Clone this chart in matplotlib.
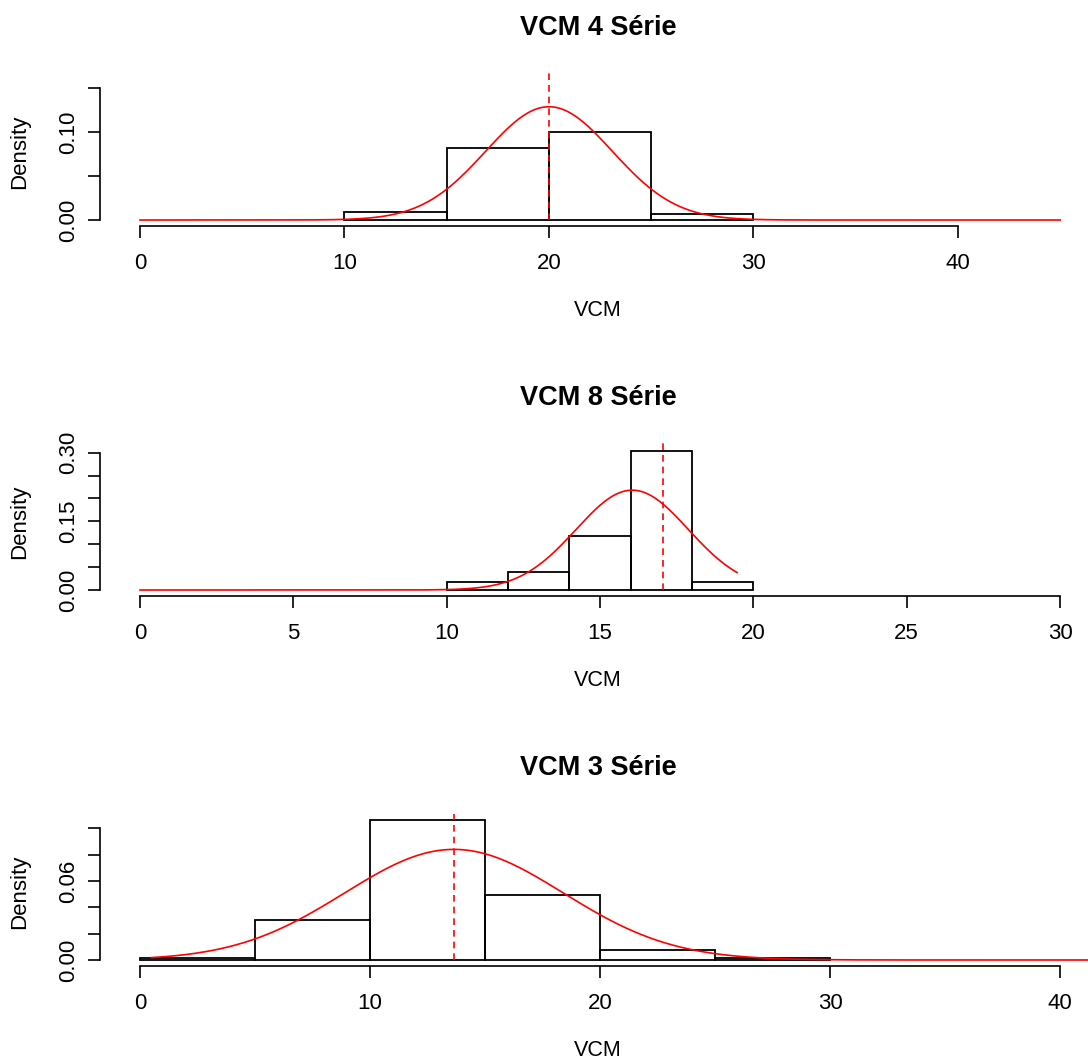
import matplotlib
matplotlib.use('Agg')
import matplotlib.pyplot as plt
import numpy as np

plt.rcParams['font.family'] = ['Liberation Sans', 'DejaVu Sans']

# ---------------- data ----------------
titles = ['VCM 4 Série', 'VCM 8 Série', 'VCM 3 Série']
xlabel_text = 'VCM'
ylabel_text = 'Density'

edges4 = [10, 15, 20, 25, 30]
dens4 = [0.0094, 0.082, 0.100, 0.0068]
edges8 = [10, 12, 14, 16, 18, 20]
dens8 = [0.0168, 0.0386, 0.118, 0.304, 0.0168]
edges3 = [0, 5, 10, 15, 20, 25, 30]
dens3 = [0.0014, 0.0305, 0.1065, 0.0496, 0.0074, 0.0014]

# fitted normal curve parameters (mean, sd, drawn range)
mean4, sd4, range4 = 20.0, 3.10, (0.0, 45.0)
mean8, sd8, range8 = 16.05, 1.83, (0.0, 19.47)
mean3, sd3, range3 = 13.65, 4.75, (0.5, 45.0)

# dashed reference line: x position and top
vline4, vtop4 = 20.0, 0.167
vline8, vtop8 = 17.04, 0.321
vline3, vtop3 = 13.65, 0.111

xticks4 = [0, 10, 20, 30, 40]
xticks8 = [0, 5, 10, 15, 20, 25, 30]
xticks3 = [0, 10, 20, 30, 40]
yticks4 = [0.00, 0.05, 0.10, 0.15]
ylabels4 = ['0.00', '', '0.10', '']
yticks8 = [0.00, 0.05, 0.10, 0.15, 0.20, 0.25, 0.30]
ylabels8 = ['0.00', '', '', '0.15', '', '', '0.30']
yticks3 = [0.00, 0.02, 0.04, 0.06, 0.08, 0.10]
ylabels3 = ['0.00', '', '', '0.06', '', '']

# ---------------- layout (pixels) ----------------
W, H = 1088, 1061
fig = plt.figure(figsize=(W / 100, H / 100), dpi=100)
fig.patch.set_facecolor('white')

panels = [
    dict(edges=edges4, dens=dens4, mean=mean4, sd=sd4, rng=range4, vx=vline4, vtop=vtop4,
         xt=xticks4, yt=yticks4, yl=ylabels4, sx=20.45, sy=880.0, axisY=226, y0=220, title=titles[0]),
    dict(edges=edges8, dens=dens8, mean=mean8, sd=sd8, rng=range8, vx=vline8, vtop=vtop8,
         xt=xticks8, yt=yticks8, yl=ylabels8, sx=920 / 30, sy=458.0, axisY=596, y0=590, title=titles[1]),
    dict(edges=edges3, dens=dens3, mean=mean3, sd=sd3, rng=range3, vx=vline3, vtop=vtop3,
         xt=xticks3, yt=yticks3, yl=ylabels3, sx=23.0, sy=1317.0, axisY=966, y0=960, title=titles[2]),
]

x0px = 140      # pixel of x = 0
yaxis_px = 100  # pixel of y axis line
right_px = 1088
lw_bar = 1.3
tick_len = 8.6

for i, p in enumerate(panels):
    top_px = p['axisY'] - 166
    ax = fig.add_axes([yaxis_px / W, 1 - p['axisY'] / H,
                       (right_px - yaxis_px) / W, (p['axisY'] - top_px) / H])
    ax.set_xlim((yaxis_px - x0px) / p['sx'], (right_px - x0px) / p['sx'])
    ax.set_ylim(-(p['axisY'] - p['y0']) / p['sy'], (p['y0'] - top_px) / p['sy'])
    ax.patch.set_alpha(0)

    edges = np.array(p['edges'], dtype=float)
    ax.bar(edges[:-1], p['dens'], width=np.diff(edges), align='edge',
           fill=False, edgecolor='black', linewidth=lw_bar, clip_on=False)

    xs = np.linspace(p['rng'][0], p['rng'][1], 400)
    ys = np.exp(-0.5 * ((xs - p['mean']) / p['sd']) ** 2) / (p['sd'] * np.sqrt(2 * np.pi))
    ax.plot(xs, ys, color='red', linewidth=1.2, clip_on=False)
    ax.plot([p['vx'], p['vx']], [0, p['vtop']], color='red', linewidth=1.2,
            linestyle=(0, (4, 3)), clip_on=False)

    for s in ['top', 'right']:
        ax.spines[s].set_visible(False)
    ax.spines['left'].set_bounds(p['yt'][0], p['yt'][-1])
    ax.spines['bottom'].set_bounds(p['xt'][0], p['xt'][-1])
    for s in ['left', 'bottom']:
        ax.spines[s].set_linewidth(1.2)

    ax.set_xticks(p['xt'])
    ax.set_xticklabels([str(v) for v in p['xt']], fontsize=16)
    ax.set_yticks(p['yt'])
    ax.set_yticklabels(p['yl'], fontsize=16, rotation=90, va='center')
    ax.tick_params(axis='x', length=tick_len, width=1.2, pad=10.5)
    ax.tick_params(axis='y', length=tick_len, width=1.2, pad=6.5)

    fig.text(598 / W, 1 - (p['axisY'] - 198) / H, p['title'], fontsize=19.5,
             fontweight='bold', ha='center', va='center')
    fig.text(598 / W, 1 - (p['axisY'] + 85) / H, xlabel_text, fontsize=15.5,
             ha='center', va='center')
    fig.text(20 / W, 1 - (p['axisY'] - 74) / H, ylabel_text, fontsize=16,
             ha='center', va='center', rotation=90)

fig.savefig('out.png', dpi=100, facecolor='white')
